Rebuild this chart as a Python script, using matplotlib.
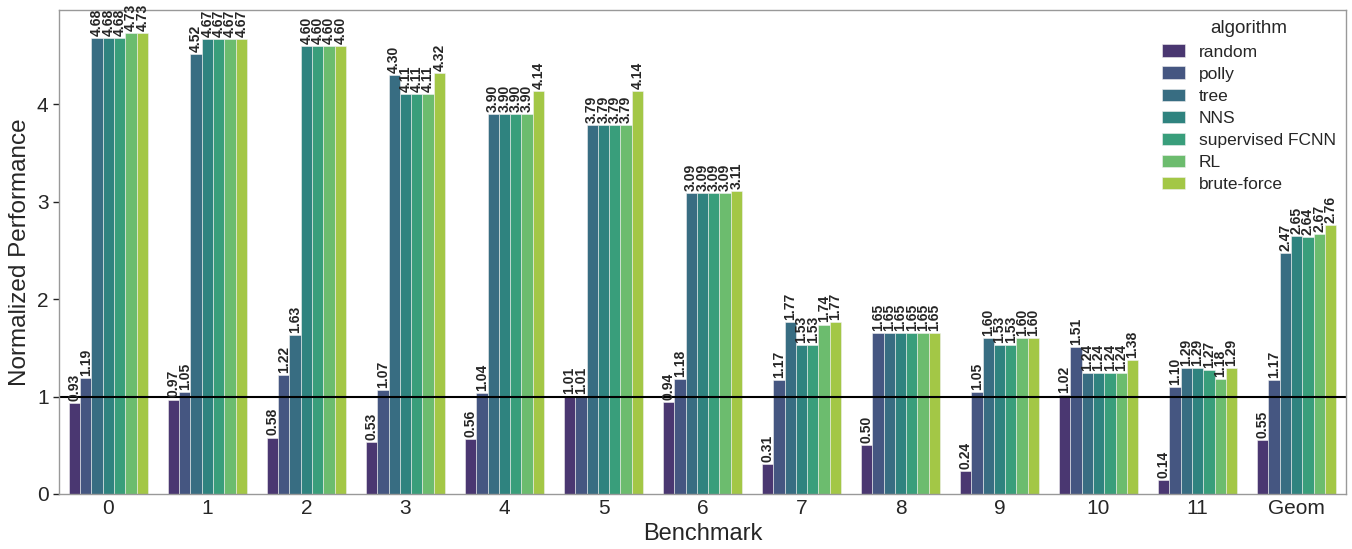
import matplotlib
matplotlib.use("Agg")
import matplotlib.pyplot as plt
import seaborn as sns
import pandas as pd

benchmarks = ["0", "1", "2", "3", "4", "5", "6", "7", "8", "9", "10", "11", "Geom"]
algorithms = ["random", "polly", "tree", "NNS", "supervised FCNN", "RL", "brute-force"]

random_vals = [0.93, 0.97, 0.58, 0.53, 0.56, 1.01, 0.94, 0.31, 0.50, 0.24, 1.02, 0.14, 0.55]
polly_vals = [1.19, 1.05, 1.22, 1.07, 1.04, 1.01, 1.18, 1.17, 1.65, 1.05, 1.51, 1.10, 1.17]
tree_vals = [4.68, 4.52, 1.63, 4.30, 3.90, 3.79, 3.09, 1.77, 1.65, 1.60, 1.24, 1.29, 2.47]
nns_vals = [4.68, 4.67, 4.60, 4.11, 3.90, 3.79, 3.09, 1.53, 1.65, 1.53, 1.24, 1.29, 2.65]
fcnn_vals = [4.68, 4.67, 4.60, 4.11, 3.90, 3.79, 3.09, 1.53, 1.65, 1.53, 1.24, 1.27, 2.64]
rl_vals = [4.73, 4.67, 4.60, 4.11, 3.90, 3.79, 3.09, 1.74, 1.65, 1.60, 1.24, 1.18, 2.67]
bf_vals = [4.73, 4.67, 4.60, 4.32, 4.14, 4.14, 3.11, 1.77, 1.65, 1.60, 1.38, 1.29, 2.76]

series = [random_vals, polly_vals, tree_vals, nns_vals, fcnn_vals, rl_vals, bf_vals]

rows = []
for alg, vals in zip(algorithms, series):
    for b, v in zip(benchmarks, vals):
        rows.append({"Benchmark": b, "algorithm": alg, "value": v})
df = pd.DataFrame(rows)

sns.set_theme(style="white")
plt.rcParams["font.family"] = ["Liberation Sans", "DejaVu Sans"]

fig = plt.figure(figsize=(13.52, 5.49), dpi=100)
ax = fig.add_axes([0.0436, 0.1002, 0.952, 0.8816])

sns.barplot(data=df, x="Benchmark", y="value", hue="algorithm",
            order=benchmarks, hue_order=algorithms, palette="viridis",
            ax=ax, errorbar=None, linewidth=0.4, edgecolor="#f0f0f0")

for cont in ax.containers:
    ax.bar_label(cont, fmt="%.2f", rotation=90, fontweight="bold",
                 fontsize=10, padding=1.5)

ax.axhline(1, color="black", lw=1.5)
ax.set_xlabel("Benchmark", fontsize=17)
ax.set_ylabel("Normalized Performance", fontsize=17.5)
ax.tick_params(axis="x", labelsize=15, length=0)
ax.tick_params(axis="y", labelsize=15, left=True, length=4, width=1, color="#222222")
ax.set_yticks([0, 1, 2, 3, 4])
ax.set_ylim(0, 4.97)
for s in ax.spines.values():
    s.set_color("#999999")
    s.set_linewidth(1)

leg = ax.legend(title="algorithm", loc="upper right", frameon=False,
                fontsize=12.5, title_fontsize=13.5, handlelength=1.3,
                labelspacing=0.4, borderaxespad=0.2)

fig.savefig("out.png", dpi=100)
